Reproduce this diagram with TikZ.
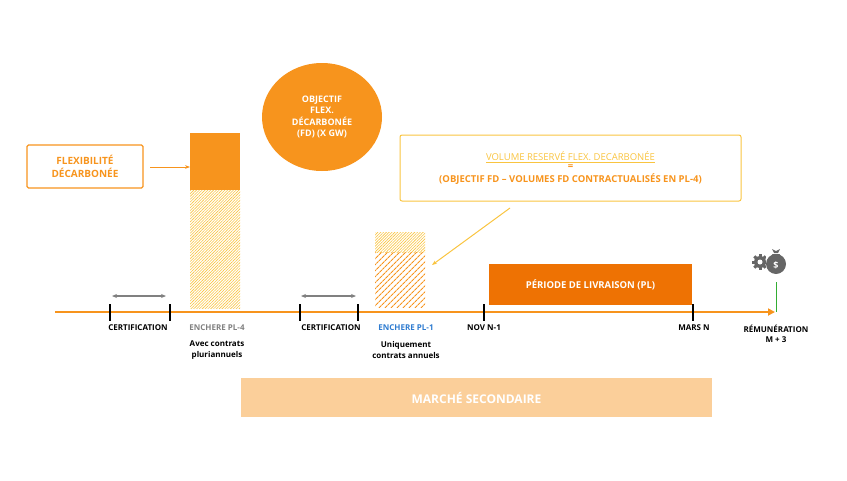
\documentclass[tikz,border=0pt]{standalone}
\usepackage{fontspec}
\setmainfont{Open Sans}
\usetikzlibrary{patterns.meta,arrows.meta,shapes.geometric}
\definecolor{org}{HTML}{F7941D}
\definecolor{dorg}{HTML}{EE7203}
\definecolor{yel}{HTML}{F9C440}
\definecolor{peach}{HTML}{FBCF9A}
\definecolor{blu}{HTML}{2E7BD0}
\begin{document}
\begin{tikzpicture}[x=1pt,y=-1pt,
  lab/.style={font=\fontsize{8}{10.5}\selectfont\bfseries,align=center,inner sep=1pt},
  tick/.style={line width=1.2pt,black},
  cert/.style={{Stealth[length=5pt,width=4pt]}-{Stealth[length=5pt,width=4pt]},gray,line width=1.2pt}]
\useasboundingbox (0,0) rectangle (847,480);
% axis
\coordinate (a0) at (55,312);
\coordinate (a1) at (775,312);
\draw[org,line width=2.5pt,-{Triangle[length=7pt,width=7pt]}] (a0) -- (a1);
% ticks
\foreach \n/\x in {t1/110,t2/170,t3/300,t4/358,t5/484,t6/693}{
  \draw[tick] (\x,304) -- (\x,321); \coordinate (\n) at (\x,321);}
\draw[green!60!black!80,line width=1pt] (776,282) -- (776,312);
% cert arrows
\coordinate (c1a) at (112,296); \coordinate (c1b) at (166,296);
\coordinate (c2a) at (301,296); \coordinate (c2b) at (356,296);
\draw[cert] (c1a) -- (c1b);
\draw[cert] (c2a) -- (c2b);
% bars
\node[fill=org,minimum width=50,minimum height=57,inner sep=0,anchor=north west] (bs) at (190,133) {};
\fill[pattern={Lines[angle=45,distance=2pt,line width=0.6pt]},pattern color=yel] (190,190) rectangle (240,308);
\node[minimum width=50,minimum height=118,inner sep=0,anchor=north west] (bh) at (190,190) {};
\fill[pattern={Lines[angle=45,distance=2pt,line width=0.6pt]},pattern color=yel] (375,232) rectangle (425,252);
\fill[pattern={Lines[angle=45,distance=4pt,line width=1.2pt]},pattern color=org] (375,252) rectangle (425,307);
\node[minimum width=50,minimum height=75,inner sep=0,anchor=north west] (b2) at (375,232) {};
% flex box
\node[draw=org,line width=1.2pt,rounded corners=1.5pt,minimum width=116,minimum height=43,text=org,
  font=\fontsize{10}{13}\selectfont\bfseries,align=center] (flex) at (85,166.5) {FLEXIBILITÉ\\DÉCARBONÉE};
\coordinate (fa) at (150,167);
\draw[org,line width=1pt,-{Stealth[length=5pt]}] (fa) -- (bs.west |- fa);
% circle
\node[ellipse,fill=org,minimum width=120,minimum height=108,text=white,
  font=\fontsize{9}{11.5}\selectfont\bfseries,align=center] (obj) at (322,117) {OBJECTIF\\FLEX.\\DÉCARBONÉE\\(FD) (X GW)};
% volume box
\node[draw=yel,line width=1pt,rounded corners=2pt,minimum width=341,minimum height=66,align=center,
  font=\fontsize{9.5}{13.5}\selectfont] (vol) at (570.5,168)
  {\textcolor{yel}{\underline{VOLUME RESERVÉ FLEX. DECARBONÉE}}\\[-4pt]\textcolor{org}{\bfseries =}\\[-1pt]\textcolor{org}{\bfseries (OBJECTIF FD – VOLUMES FD CONTRACTUALISÉS EN PL-4)}};
\coordinate (va) at (510,208);
\draw[yel,line width=1pt,-{Stealth[length=5pt]}] (va) -- (432,265);
% periode
\node[fill=dorg,minimum width=203,minimum height=41,text=white,font=\fontsize{9.5}{11}\selectfont\bfseries] (pl) at (590.5,284.5) {PÉRIODE DE LIVRAISON (PL)};
% marche
\node[fill=peach,minimum width=471,minimum height=39,text=white,font=\fontsize{12}{14}\selectfont\bfseries] (ms) at (476.5,397.5) {MARCHÉ SECONDAIRE};
% labels
\node[lab] (l1) at (138,328) {CERTIFICATION};
\node[lab,text=gray] (l2) at (217,328) {ENCHERE PL-4};
\node[lab] (l3) at (217,350) {Avec contrats\\pluriannuels};
\node[lab] (l4) at (331,328) {CERTIFICATION};
\node[lab,text=blu] (l5) at (406,328) {ENCHERE PL-1};
\node[lab] (l6) at (406,350) {Uniquement\\contrats annuels};
\node[lab] (l7) at (484,328) {NOV N-1};
\node[lab] (l8) at (694,328) {MARS N};
\node[lab] (l9) at (776,334) {RÉMUNÉRATION\\M + 3};
% icon
\begin{scope}[shift={(772,262)}]
  \fill[darkgray!80] (-12,0) circle (6);
  \fill[white] (-12,0) circle (2.5);
  \foreach \a in {0,45,...,315} \fill[darkgray!80,rotate around={\a:(-12,0)}] (-13.5,-8) rectangle (-10.5,-5);
  \fill[white] (-6,-10) rectangle (0,10);
  \fill[darkgray!80] (4,2) circle (10);
  \fill[darkgray!80] (0,-8) -- (8,-8) -- (6,-4) -- (2,-4) -- cycle;
  \fill[darkgray!80] (0,-13) -- (2,-9) -- (6,-9) -- (8,-13) -- (4,-11) -- cycle;
  \node[text=white,font=\fontsize{9}{9}\selectfont\bfseries] (dol) at (4,3) {\$};
\end{scope}
\end{tikzpicture}
\end{document}
